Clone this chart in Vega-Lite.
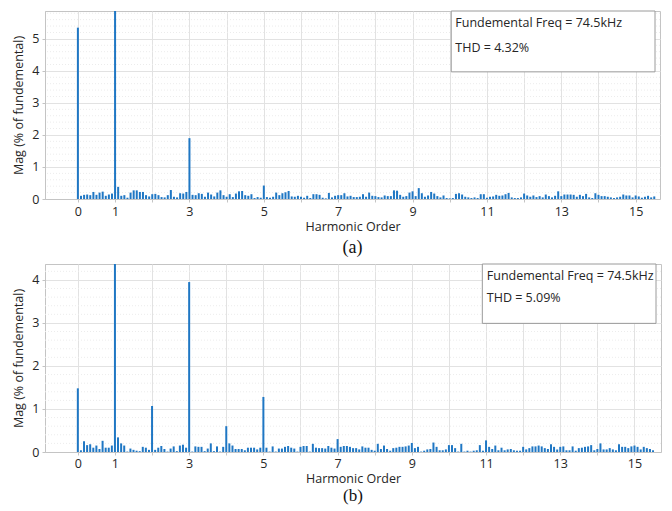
{
  "$schema": "https://vega.github.io/schema/vega-lite/v6.json",
  "background": "white",
  "padding": {"left": 12, "top": 10, "right": 9, "bottom": 0},
  "spacing": 5,
  "config": {
    "font": "Open Sans",
    "view": {"stroke": "#c4c4c4", "strokeWidth": 1},
    "axis": {
      "labelFont": "Open Sans", "labelFontSize": 12.5, "labelColor": "#262626", "labelOverlap": false,
      "titleFont": "Open Sans", "titleFontSize": 12.5, "titleFontWeight": "normal", "titleColor": "#262626",
      "gridColor": "#e2e2e2", "domainColor": "#c4c4c4", "tickColor": "#c4c4c4", "tickSize": 3, "labelPadding": 3
    },
    "title": {"font": "Liberation Serif", "fontSize": 18, "fontWeight": "normal", "color": "#111111"}
  },
  "datasets": {
    "fft": [
      {"h":0,"a":5.35,"b":1.48},{"h":0.083,"a":0.1,"b":0.04},{"h":0.167,"a":0.13,"b":0.25},{"h":0.25,"a":0.14,"b":0.16},{"h":0.333,"a":0.12,"b":0.18},{"h":0.417,"a":0.22,"b":0.1},{"h":0.5,"a":0.13,"b":0.15},{"h":0.583,"a":0.2,"b":0.07},{"h":0.667,"a":0.23,"b":0.26},{"h":0.75,"a":0.1,"b":0.1},{"h":0.833,"a":0.14,"b":0.1},{"h":0.917,"a":0.17,"b":0.15},
      {"h":1,"a":100,"b":100},{"h":1.083,"a":0.38,"b":0.34},{"h":1.167,"a":0.1,"b":0.2},{"h":1.25,"a":0.12,"b":0.15},{"h":1.333,"a":0.04,"b":0.01},{"h":1.417,"a":0.2,"b":0.08},{"h":1.5,"a":0.27,"b":0.05},{"h":1.583,"a":0.27,"b":0.03},{"h":1.667,"a":0.22,"b":0.02},{"h":1.75,"a":0.22,"b":0.12},{"h":1.833,"a":0.12,"b":0.1},{"h":1.917,"a":0.08,"b":0.05},
      {"h":2,"a":0.15,"b":1.07},{"h":2.083,"a":0.16,"b":0.05},{"h":2.167,"a":0.12,"b":0.1},{"h":2.25,"a":0.06,"b":0.14},{"h":2.333,"a":0.05,"b":0.07},{"h":2.417,"a":0.12,"b":0.01},{"h":2.5,"a":0.28,"b":0.08},{"h":2.583,"a":0.07,"b":0.13},{"h":2.667,"a":0.05,"b":0.02},{"h":2.75,"a":0.18,"b":0.15},{"h":2.833,"a":0.17,"b":0.17},{"h":2.917,"a":0.22,"b":0.1},
      {"h":3,"a":1.9,"b":3.95},{"h":3.083,"a":0.13,"b":0.01},{"h":3.167,"a":0.12,"b":0.13},{"h":3.25,"a":0.18,"b":0.12},{"h":3.333,"a":0.16,"b":0.12},{"h":3.417,"a":0.07,"b":0.02},{"h":3.5,"a":0.2,"b":0.08},{"h":3.583,"a":0.14,"b":0.2},{"h":3.667,"a":0.08,"b":0.02},{"h":3.75,"a":0.2,"b":0.13},{"h":3.833,"a":0.27,"b":0.01},{"h":3.917,"a":0.12,"b":0.12},
      {"h":4,"a":0.07,"b":0.6},{"h":4.083,"a":0.15,"b":0.2},{"h":4.167,"a":0.06,"b":0.15},{"h":4.25,"a":0.17,"b":0.07},{"h":4.333,"a":0.24,"b":0.07},{"h":4.417,"a":0.25,"b":0.07},{"h":4.5,"a":0.12,"b":0.04},{"h":4.583,"a":0.1,"b":0.1},{"h":4.667,"a":0.15,"b":0.1},{"h":4.75,"a":0.03,"b":0.1},{"h":4.833,"a":0.06,"b":0.06},{"h":4.917,"a":0.04,"b":0.1},
      {"h":5,"a":0.42,"b":1.28},{"h":5.083,"a":0.06,"b":0.1},{"h":5.167,"a":0.04,"b":0.01},{"h":5.25,"a":0.07,"b":0.13},{"h":5.333,"a":0.2,"b":0.01},{"h":5.417,"a":0.12,"b":0.08},{"h":5.5,"a":0.18,"b":0.08},{"h":5.583,"a":0.21,"b":0.12},{"h":5.667,"a":0.25,"b":0.14},{"h":5.75,"a":0.08,"b":0.1},{"h":5.833,"a":0.07,"b":0.08},{"h":5.917,"a":0.1,"b":0.01},
      {"h":6,"a":0.07,"b":0.12},{"h":6.083,"a":0.04,"b":0.14},{"h":6.167,"a":0.1,"b":0.14},{"h":6.25,"a":0.03,"b":0.01},{"h":6.333,"a":0.15,"b":0.19},{"h":6.417,"a":0.15,"b":0.1},{"h":6.5,"a":0.13,"b":0.09},{"h":6.583,"a":0.04,"b":0.09},{"h":6.667,"a":0.02,"b":0.08},{"h":6.75,"a":0.19,"b":0.14},{"h":6.833,"a":0.05,"b":0.1},{"h":6.917,"a":0.1,"b":0.08},
      {"h":7,"a":0.12,"b":0.3},{"h":7.083,"a":0.12,"b":0.12},{"h":7.167,"a":0.18,"b":0.14},{"h":7.25,"a":0.08,"b":0.14},{"h":7.333,"a":0.1,"b":0.12},{"h":7.417,"a":0.06,"b":0.09},{"h":7.5,"a":0.06,"b":0.09},{"h":7.583,"a":0.07,"b":0.06},{"h":7.667,"a":0.15,"b":0.13},{"h":7.75,"a":0.07,"b":0.1},{"h":7.833,"a":0.2,"b":0.1},{"h":7.917,"a":0.1,"b":0.05},
      {"h":8,"a":0.09,"b":0.03},{"h":8.083,"a":0.06,"b":0.19},{"h":8.167,"a":0.05,"b":0.07},{"h":8.25,"a":0.11,"b":0.15},{"h":8.333,"a":0.09,"b":0.07},{"h":8.417,"a":0.09,"b":0.03},{"h":8.5,"a":0.27,"b":0.09},{"h":8.583,"a":0.26,"b":0.1},{"h":8.667,"a":0.13,"b":0.12},{"h":8.75,"a":0.07,"b":0.12},{"h":8.833,"a":0.09,"b":0.13},{"h":8.917,"a":0.2,"b":0.15},
      {"h":9,"a":0.24,"b":0.21},{"h":9.083,"a":0.09,"b":0.09},{"h":9.167,"a":0.34,"b":0.12},{"h":9.25,"a":0.18,"b":0.01},{"h":9.333,"a":0.07,"b":0.03},{"h":9.417,"a":0.11,"b":0.06},{"h":9.5,"a":0.22,"b":0.07},{"h":9.583,"a":0.17,"b":0.22},{"h":9.667,"a":0.09,"b":0.12},{"h":9.75,"a":0.05,"b":0.04},{"h":9.833,"a":0.11,"b":0.04},{"h":9.917,"a":0.03,"b":0.06},
      {"h":10,"a":0.02,"b":0.16},{"h":10.083,"a":0.03,"b":0.16},{"h":10.167,"a":0.16,"b":0.09},{"h":10.25,"a":0.18,"b":0.01},{"h":10.333,"a":0.14,"b":0.19},{"h":10.417,"a":0.07,"b":0.01},{"h":10.5,"a":0.05,"b":0.03},{"h":10.583,"a":0.03,"b":0.01},{"h":10.667,"a":0.05,"b":0.03},{"h":10.75,"a":0.03,"b":0.04},{"h":10.833,"a":0.15,"b":0.16},{"h":10.917,"a":0.15,"b":0.03},
      {"h":11,"a":0.04,"b":0.27},{"h":11.083,"a":0.07,"b":0.12},{"h":11.167,"a":0.08,"b":0.07},{"h":11.25,"a":0.13,"b":0.15},{"h":11.333,"a":0.1,"b":0.04},{"h":11.417,"a":0.11,"b":0.1},{"h":11.5,"a":0.15,"b":0.04},{"h":11.583,"a":0.19,"b":0.06},{"h":11.667,"a":0.05,"b":0.07},{"h":11.75,"a":0.03,"b":0.04},{"h":11.833,"a":0.03,"b":0.03},{"h":11.917,"a":0.05,"b":0.03},
      {"h":12,"a":0.17,"b":0.12},{"h":12.083,"a":0.11,"b":0.06},{"h":12.167,"a":0.07,"b":0.09},{"h":12.25,"a":0.11,"b":0.13},{"h":12.333,"a":0.06,"b":0.13},{"h":12.417,"a":0.09,"b":0.15},{"h":12.5,"a":0.05,"b":0.13},{"h":12.583,"a":0.14,"b":0.09},{"h":12.667,"a":0.09,"b":0.07},{"h":12.75,"a":0.05,"b":0.18},{"h":12.833,"a":0.1,"b":0.12},{"h":12.917,"a":0.24,"b":0.06},
      {"h":13,"a":0.09,"b":0.12},{"h":13.083,"a":0.14,"b":0.13},{"h":13.167,"a":0.14,"b":0.04},{"h":13.25,"a":0.14,"b":0.04},{"h":13.333,"a":0.13,"b":0.13},{"h":13.417,"a":0.07,"b":0.03},{"h":13.5,"a":0.13,"b":0.09},{"h":13.583,"a":0.09,"b":0.1},{"h":13.667,"a":0.16,"b":0.12},{"h":13.75,"a":0.05,"b":0.13},{"h":13.833,"a":0.03,"b":0.16},{"h":13.917,"a":0.18,"b":0.04},
      {"h":14,"a":0.13,"b":0.07},{"h":14.083,"a":0.09,"b":0.2},{"h":14.167,"a":0.09,"b":0.06},{"h":14.25,"a":0.07,"b":0.06},{"h":14.333,"a":0.05,"b":0.09},{"h":14.417,"a":0.03,"b":0.06},{"h":14.5,"a":0.05,"b":0.04},{"h":14.583,"a":0.07,"b":0.18},{"h":14.667,"a":0.14,"b":0.12},{"h":14.75,"a":0.11,"b":0.12},{"h":14.833,"a":0.11,"b":0.09},{"h":14.917,"a":0.05,"b":0.13},
      {"h":15,"a":0.11,"b":0.15},{"h":15.083,"a":0.08,"b":0.12},{"h":15.167,"a":0.04,"b":0.06},{"h":15.25,"a":0.07,"b":0.12},{"h":15.333,"a":0.1,"b":0.09},{"h":15.417,"a":0.05,"b":0.07},{"h":15.5,"a":0.08,"b":0.04}
    ],
    "minorA": [{"g":0.2},{"g":0.4},{"g":0.6},{"g":0.8},{"g":1.2},{"g":1.4},{"g":1.6},{"g":1.8},{"g":2.2},{"g":2.4},{"g":2.6},{"g":2.8},{"g":3.2},{"g":3.4},{"g":3.6},{"g":3.8},{"g":4.2},{"g":4.4},{"g":4.6},{"g":4.8},{"g":5.2},{"g":5.4},{"g":5.6},{"g":5.8}],
    "minorB": [{"g":0.2},{"g":0.4},{"g":0.6},{"g":0.8},{"g":1.2},{"g":1.4},{"g":1.6},{"g":1.8},{"g":2.2},{"g":2.4},{"g":2.6},{"g":2.8},{"g":3.2},{"g":3.4},{"g":3.6},{"g":3.8},{"g":4.2}]
  },
  "vconcat": [
    {
      "width": 615,
      "height": 188,
      "title": {"text": "(a)", "orient": "bottom", "offset": 6},
      "layer": [
        {
          "data": {"name": "minorA"},
          "mark": {"type": "rule", "color": "#ececec", "strokeDash": [1, 2], "strokeWidth": 1},
          "encoding": {"y": {"field": "g", "type": "quantitative", "title": "Mag (% of fundemental)",
                             "scale": {"domain": [0, 5.87], "nice": false},
                             "axis": {"values": [0,1,2,3,4,5], "tickCount": 6, "labelOverlap": false, "grid": true, "titlePadding": 6}}}
        },
        {
          "data": {"name": "fft"},
          "mark": {"type": "bar", "size": 2, "color": "#1f77c4", "clip": true},
          "encoding": {
            "x": {"field": "h", "type": "quantitative", "title": "Harmonic Order",
                  "scale": {"domain": [-0.75, 15.52], "nice": false, "zero": false},
                  "axis": {"values": [0,1,2,3,4,5,6,7,8,9,10,11,12,13,14,15], "grid": true,
                           "labelExpr": "datum.value == 0 || datum.value % 2 == 1 ? datum.label : ''", "titlePadding": 3}},
            "y": {"field": "a", "type": "quantitative", "title": "Mag (% of fundemental)",
                  "scale": {"domain": [0, 5.87], "nice": false},
                  "axis": {"values": [0,1,2,3,4,5], "tickCount": 6, "labelOverlap": false, "grid": true, "titlePadding": 6}}
          }
        },
        {
          "data": {"values": [{"x1": 10.04, "x2": 15.52, "y1": 3.97, "y2": 5.87}]},
          "mark": {"type": "rect", "fill": "white", "stroke": "#9a9a9a", "strokeWidth": 1},
          "encoding": {
            "x": {"field": "x1", "type": "quantitative", "title": "Harmonic Order"},
            "x2": {"field": "x2"},
            "y": {"field": "y1", "type": "quantitative", "title": "Mag (% of fundemental)",
                  "axis": {"values": [0,1,2,3,4,5], "tickCount": 6, "labelOverlap": false, "grid": true, "titlePadding": 6}},
            "y2": {"field": "y2"}
          }
        },
        {
          "data": {"values": [{"tx": 10.15, "ty": 5.5, "t": "Fundemental Freq = 74.5kHz"}, {"tx": 10.15, "ty": 4.72, "t": "THD = 4.32%"}]},
          "mark": {"type": "text", "align": "left", "baseline": "middle", "font": "Open Sans", "fontSize": 12.5, "color": "#262626"},
          "encoding": {
            "x": {"field": "tx", "type": "quantitative", "title": "Harmonic Order"},
            "y": {"field": "ty", "type": "quantitative", "title": "Mag (% of fundemental)",
                  "axis": {"values": [0,1,2,3,4,5], "tickCount": 6, "labelOverlap": false, "grid": true, "titlePadding": 6}},
            "text": {"field": "t"}
          }
        }
      ]
    },
    {
      "width": 616,
      "height": 188,
      "title": {"text": "(b)", "orient": "bottom", "offset": 3, "fontSize": 17},
      "layer": [
        {
          "data": {"name": "minorB"},
          "mark": {"type": "rule", "color": "#ececec", "strokeDash": [1, 2], "strokeWidth": 1},
          "encoding": {"y": {"field": "g", "type": "quantitative", "title": "Mag (% of fundemental)",
                             "scale": {"domain": [0, 4.37], "nice": false},
                             "axis": {"values": [0,1,2,3,4], "grid": true, "titlePadding": 6}}}
        },
        {
          "data": {"name": "fft"},
          "mark": {"type": "bar", "size": 2, "color": "#1f77c4", "clip": true},
          "encoding": {
            "x": {"field": "h", "type": "quantitative", "title": "Harmonic Order",
                  "scale": {"domain": [-0.75, 15.58], "nice": false, "zero": false},
                  "axis": {"values": [0,1,2,3,4,5,6,7,8,9,10,11,12,13,14,15], "grid": true, "labelPadding": 2,
                           "labelExpr": "datum.value == 0 || datum.value % 2 == 1 ? datum.label : ''", "titlePadding": 3}},
            "y": {"field": "b", "type": "quantitative", "title": "Mag (% of fundemental)",
                  "scale": {"domain": [0, 4.37], "nice": false},
                  "axis": {"values": [0,1,2,3,4], "grid": true, "titlePadding": 6}}
          }
        },
        {
          "data": {"values": [{"x1": 10.9, "x2": 15.58, "y1": 2.99, "y2": 4.37}]},
          "mark": {"type": "rect", "fill": "white", "stroke": "#9a9a9a", "strokeWidth": 1},
          "encoding": {
            "x": {"field": "x1", "type": "quantitative", "title": "Harmonic Order"},
            "x2": {"field": "x2"},
            "y": {"field": "y1", "type": "quantitative", "title": "Mag (% of fundemental)"},
            "y2": {"field": "y2"}
          }
        },
        {
          "data": {"values": [{"tx": 11.02, "ty": 4.09, "t": "Fundemental Freq = 74.5kHz"}, {"tx": 11.02, "ty": 3.57, "t": "THD = 5.09%"}]},
          "mark": {"type": "text", "align": "left", "baseline": "middle", "font": "Open Sans", "fontSize": 12.5, "color": "#262626"},
          "encoding": {
            "x": {"field": "tx", "type": "quantitative", "title": "Harmonic Order"},
            "y": {"field": "ty", "type": "quantitative", "title": "Mag (% of fundemental)"},
            "text": {"field": "t"}
          }
        }
      ]
    }
  ]
}
